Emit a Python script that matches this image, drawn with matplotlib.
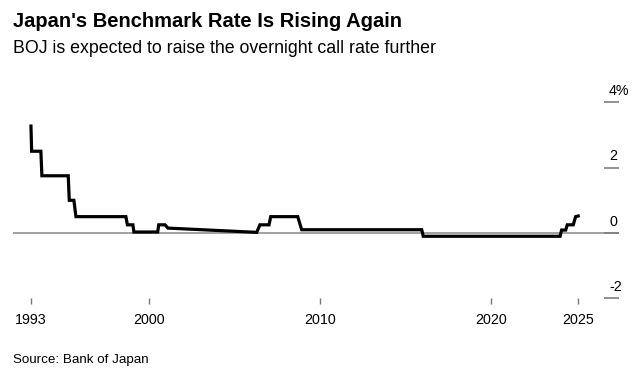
import matplotlib.pyplot as plt
import matplotlib.transforms as mtransforms

# overnight call rate (decimal year, percent)
dates = [1993.10, 1993.14, 1993.68, 1993.74, 1995.28, 1995.34, 1995.61, 1995.73,
         1998.65, 1998.74, 1999.06, 1999.12, 2000.51, 2000.57, 2000.94, 2001.11,
         2006.30, 2006.49, 2007.02, 2007.12, 2008.70, 2008.93, 2015.95, 2016.04,
         2024.04, 2024.13, 2024.37, 2024.46, 2024.81, 2024.95, 2025.10]
rates = [3.27, 2.50, 2.50, 1.75, 1.75, 1.00, 1.00, 0.50,
         0.50, 0.25, 0.25, 0.03, 0.03, 0.25, 0.25, 0.15,
         0.02, 0.25, 0.25, 0.50, 0.50, 0.10, 0.10, -0.10,
         -0.10, 0.09, 0.09, 0.25, 0.25, 0.50, 0.52]

x_ticks = [dates[0], 2000, 2010, 2020, dates[-1]]
x_labels = ['1993', '2000', '2010', '2020', '2025']
y_ticks = [-2, 0, 2, 4]
y_labels = ['-2', '0', '2', '4%']

TITLE = "Japan's Benchmark Rate Is Rising Again"
SUBTITLE = 'BOJ is expected to raise the overnight call rate further'
SOURCE = 'Source: Bank of Japan'

W, H = 644, 375
plt.rcParams['font.family'] = ['Liberation Sans', 'DejaVu Sans']

fig = plt.figure(figsize=(W / 100, H / 100), dpi=100)
ax_w = 606
ax = fig.add_axes([13 / W, (H - 298.4) / H, ax_w / W, 196.2 / H])

ax.axhline(0, color='#9a9a9a', lw=1.3, zorder=1)
ax.plot(dates, rates, color='black', lw=2.3, solid_joinstyle='miter', zorder=2)

ax.set_xlim(1992.05, 2000 + (619 - 149) / 17.1)
ax.set_ylim(-2, 4)
for s in ax.spines.values():
    s.set_visible(False)

ax.set_xticks(x_ticks)
ax.set_xticklabels(x_labels)
ax.tick_params(axis='x', direction='out', length=4, width=1, color='#777777',
               pad=6.5, labelsize=10.3, labelcolor='black')

ax.yaxis.tick_right()
ax.set_yticks(y_ticks)
ax.set_yticklabels([])
ax.tick_params(axis='y', direction='in', length=10.6, width=1.2, color='#808080')
trans = mtransforms.offset_copy(ax.get_yaxis_transform(), fig=fig, x=0, y=7.5, units='dots')
for v, lab in zip(y_ticks, y_labels):
    ax.text((609 - 13) / ax_w, v, lab, transform=trans, ha='left', va='baseline', fontsize=10.3)

fig.text(13 / W, 1 - 27 / H, TITLE, fontsize=14.5, fontweight='bold', va='baseline')
fig.text(13 / W, 1 - 52.7 / H, SUBTITLE, fontsize=12.8, va='baseline')
fig.text(13 / W, 1 - 362.5 / H, SOURCE, fontsize=9.6, va='baseline')

fig.savefig('out.png', dpi=100, facecolor='white')
